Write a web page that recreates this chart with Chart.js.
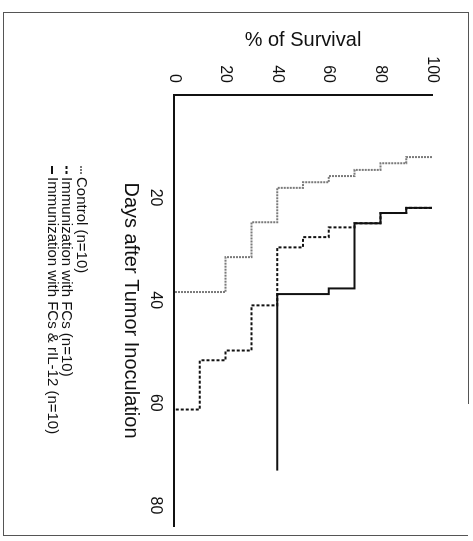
<!DOCTYPE html>
<html><head><meta charset="utf-8">
<script src="https://cdn.jsdelivr.net/npm/chart.js@4.4.0/dist/chart.umd.min.js"></script>
<style>
html,body{margin:0;padding:0;background:#fff;width:473px;height:541px;overflow:hidden;}
#frame{position:absolute;left:3px;top:12px;width:464px;height:522px;border-left:1px solid #555;border-top:1px solid #555;border-bottom:1px solid #555;}
#rightEdge{position:absolute;left:468px;top:12px;width:1px;height:392px;background:#555;}
#rot{position:absolute;left:0;top:0;width:541px;height:473px;transform-origin:0 0;transform:translate(473px,0) rotate(90deg);}
</style></head><body>
<div id="frame"></div><div id="rightEdge"></div>
<div id="rot"><canvas id="c" width="541" height="473"></canvas></div>
<script>
// Series labels
const seriesLabels = ['Control (n=10)', 'Immunization with FCs (n=10)', 'Immunization with FCs & rIL-12 (n=10)'];
// Kaplan-Meier step points: days after tumor inoculation and % of survival
const controlDays = [12.1, 12.1, 13.3, 14.6, 15.8, 17.0, 18.1, 24.8, 31.6, 38.4];
const controlSurv = [100, 90, 80, 70, 60, 50, 40, 30, 20, 0];
const fcsDays = [22.0, 22.0, 23.0, 25.0, 25.8, 27.7, 29.7, 41.0, 49.8, 51.7, 61.3];
const fcsSurv = [100, 90, 80, 70, 60, 50, 40, 30, 20, 10, 0];
const il12Days = [22.0, 22.0, 23.0, 25.0, 37.7, 38.8, 73.2];
const il12Surv = [100, 90, 80, 70, 60, 40, 40];
// Axis ticks
const dayTicks = [20, 40, 60, 80];
const survivalTicks = [0, 20, 40, 60, 80, 100];

const pts = (xs, ys) => xs.map((x, i) => ({x, y: ys[i]}));
const FONT = 'Liberation Sans, Arial, sans-serif';

const stackLegend = {
  id: 'stackLegend',
  afterDraw(chart, args, opts) {
    const ctx = chart.ctx;
    ctx.save();
    ctx.font = opts.fontSize + 'px ' + FONT;
    ctx.textBaseline = 'middle';
    ctx.textAlign = 'left';
    chart.data.datasets.forEach((ds, i) => {
      const y = opts.top + i * opts.rowHeight;
      ctx.strokeStyle = ds.borderColor;
      ctx.lineWidth = ds.borderWidth;
      ctx.setLineDash(ds.borderDash || []);
      ctx.beginPath();
      ctx.moveTo(opts.x, y);
      ctx.lineTo(opts.x + opts.markerLength, y);
      ctx.stroke();
      ctx.setLineDash([]);
      ctx.fillStyle = '#111';
      ctx.fillText(ds.label, opts.x + opts.markerLength + opts.gap, y);
    });
    ctx.restore();
  }
};

new Chart(document.getElementById('c'), {
  type: 'line',
  data: {
    datasets: [
      {label: seriesLabels[0], data: pts(controlDays, controlSurv), borderColor: '#7a7a7a', borderWidth: 2, borderDash: [2, 1]},
      {label: seriesLabels[1], data: pts(fcsDays, fcsSurv), borderColor: '#111', borderWidth: 2, borderDash: [3, 2]},
      {label: seriesLabels[2], data: pts(il12Days, il12Surv), borderColor: '#111', borderWidth: 2}
    ]
  },
  options: {
    responsive: false,
    animation: false,
    devicePixelRatio: 1,
    layout: {padding: {top: 41, right: 15, left: 0, bottom: 0}},
    elements: {point: {radius: 0}, line: {stepped: true, tension: 0, fill: false}},
    plugins: {
      legend: {display: false},
      tooltip: {enabled: false},
      stackLegend: {x: 166, top: 392, rowHeight: 14.5, markerLength: 8, gap: 3, fontSize: 15}
    },
    scales: {
      x: {
        type: 'linear', min: 0, max: 84,
        afterBuildTicks: s => { s.ticks = dayTicks.map(v => ({value: v})); },
        afterFit: s => { s.height = 174; },
        grid: {display: false, drawTicks: false},
        border: {display: true, color: '#111', width: 2},
        ticks: {color: '#111', font: {family: FONT, size: 16}, padding: 9, maxRotation: 0},
        title: {display: true, text: 'Days after Tumor Inoculation', color: '#111', font: {family: FONT, size: 20}, padding: {top: 0, bottom: 119}}
      },
      y: {
        min: 0, max: 100,
        afterBuildTicks: s => { s.ticks = survivalTicks.map(v => ({value: v})); },
        afterFit: s => { s.width = 95; },
        grid: {display: false, drawTicks: false},
        border: {display: true, color: '#111', width: 2},
        ticks: {color: '#111', font: {family: FONT, size: 16}, padding: 12},
        title: {display: true, text: '% of Survival', color: '#111', font: {family: FONT, size: 20}, padding: {top: 28, bottom: 0}}
      }
    }
  },
  plugins: [stackLegend]
});
</script>
</body></html>
